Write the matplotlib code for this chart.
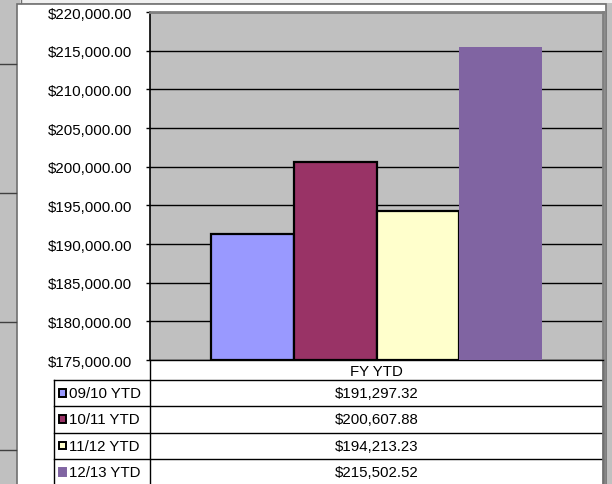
import matplotlib
matplotlib.use('Agg')
import matplotlib.pyplot as plt
from matplotlib.patches import Rectangle

plt.rcParams['font.family'] = ['Liberation Sans', 'DejaVu Sans']

# data
series = ['09/10 YTD', '10/11 YTD', '11/12 YTD', '12/13 YTD']
values = [191297.32, 200607.88, 194213.23, 215502.52]
colors = ['#9999FF', '#993366', '#FFFFCC', '#8064A2']
edges = ['black', 'black', 'black', 'none']
category = 'FY YTD'
y_min, y_max, y_step = 175000, 220000, 5000

W, H = 612, 485
FS = 10.8


def fx(px):
    return px / W


def fy(py):
    return 1 - py / H


fig = plt.figure(figsize=(W / 100, H / 100), dpi=100)
fig.patch.set_facecolor('#c0c0c0')

# background / chrome in pixel coordinates
bg = fig.add_axes([0, 0, 1, 1], zorder=0)
bg.set_xlim(0, W)
bg.set_ylim(H, 0)
bg.axis('off')
bg.add_patch(Rectangle((20, 0), W - 20, 4, facecolor='#f0f0f0', edgecolor='none'))
bg.add_patch(Rectangle((17, 5), 589, 490, facecolor='white', edgecolor='#707070', lw=1.2))
for yy in [65, 194, 323, 451]:
    bg.plot([0, 16], [yy, yy], color='#404040', lw=1)
bg.plot([21, 21], [0, 4], color='#707070', lw=1)

# main plot
ax = fig.add_axes([fx(150), fy(361), fx(603) - fx(150), fy(13) - fy(361)], zorder=1)
ax.set_facecolor('#c0c0c0')
n = len(values)
group = 0.73
bw = group / n
xs = [-group / 2 + bw * (i + 0.5) for i in range(n)]
for x, v, c, e in zip(xs, values, colors, edges):
    ax.bar(x, v - y_min, bottom=y_min, width=bw, color=c, edgecolor=e,
           linewidth=1.6 if e != 'none' else 0, zorder=3)
ax.set_xlim(-0.5, 0.5)
ax.set_ylim(y_min, y_max)
ticks = list(range(y_min, y_max + 1, y_step))
ax.set_yticks(ticks)
ax.set_yticklabels(['${:,.2f}'.format(t) for t in ticks], fontsize=FS)
ax.yaxis.grid(True, color='black', lw=1)
ax.set_axisbelow(True)
ax.set_xticks([])
ax.tick_params(axis='y', length=3, width=1, pad=10, color='black')
ax.spines['left'].set_color('black')
ax.spines['left'].set_linewidth(1.2)
ax.spines['bottom'].set_color('black')
ax.spines['bottom'].set_linewidth(1)
for s in ['top', 'right']:
    ax.spines[s].set_color('#808080')
    ax.spines[s].set_linewidth(2)

# data table below the plot
tb_left, tb_mid, tb_right = 54, 150, 603
hdr_top, hdr_bot = 361, 381
row_h = 26.3
bg.plot([tb_mid, tb_mid], [hdr_top, H], color='black', lw=1, zorder=5)
bg.plot([tb_right, tb_right], [hdr_top, H], color='#707070', lw=2, zorder=5)
bg.text((tb_mid + tb_right) / 2, (hdr_top + hdr_bot) / 2 + 1, category,
        ha='center', va='center', fontsize=FS)
bg.plot([tb_left, tb_left], [hdr_bot, H], color='black', lw=1)
for i, (name, v, c, e) in enumerate(zip(series, values, colors, edges)):
    top = hdr_bot + i * row_h
    bg.plot([tb_left, tb_right], [top, top], color='black', lw=1)
    cy = top + row_h / 2
    bg.add_patch(Rectangle((58.5, cy - 4), 7.5, 7.5, facecolor=c,
                           edgecolor='black' if e != 'none' else c, lw=1.4))
    bg.text(69, cy, name, ha='left', va='center', fontsize=FS)
    bg.text((tb_mid + tb_right) / 2, cy, '${:,.2f}'.format(v),
            ha='center', va='center', fontsize=FS)

fig.savefig('out.png', dpi=100, facecolor=fig.get_facecolor())
